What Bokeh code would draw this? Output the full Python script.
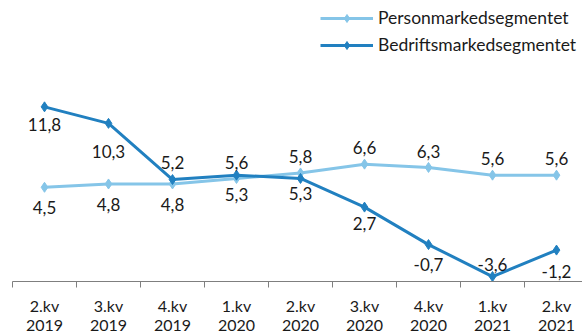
from bokeh.plotting import figure
from bokeh.models import ColumnDataSource, FixedTicker, Legend, LegendItem, Range1d
from bokeh.core.properties import value
from bokeh.embed import file_html
from bokeh.resources import INLINE

quarters = ["2.kv", "3.kv", "4.kv", "1.kv", "2.kv", "3.kv", "4.kv", "1.kv", "2.kv"]
years = ["2019", "2019", "2019", "2020", "2020", "2020", "2020", "2021", "2021"]
person = [4.5, 4.8, 4.8, 5.3, 5.8, 6.6, 6.3, 5.6, 5.6]
bedrift = [11.8, 10.3, 5.2, 5.6, 5.3, 2.7, -0.7, -3.6, -1.2]

# label placement (style): screen-pixel vertical offsets, + is below
person_off = [20, 21, 21, 16, -16, -17, -16, -17, -17]
bedrift_off = [18, 28, -17, -13, 15, 16, 20, -12, 21]

LIGHT = "#85C5E8"
DARK = "#2180C0"
FONT = "Lato"

x = list(range(len(quarters)))
labels = [f"{q}\n{y}" for q, y in zip(quarters, years)]

p = figure(width=582, height=336, output_backend="svg", toolbar_location=None,
           x_range=Range1d(-0.5, 8.406), y_range=Range1d(-4.05, 21.45),
           min_border_left=12, min_border_right=0, min_border_top=0, min_border_bottom=53)
p.outline_line_color = None
p.grid.visible = False
p.yaxis.visible = False

src_p = ColumnDataSource(dict(x=x, y=person, t=[f"{v:.1f}".replace(".", ",") for v in person], off=person_off))
src_b = ColumnDataSource(dict(x=x, y=bedrift, t=[f"{v:.1f}".replace(".", ",") for v in bedrift], off=bedrift_off))

lp = p.line("x", "y", source=src_p, line_color=LIGHT, line_width=3)
sp = p.scatter("x", "y", source=src_p, marker="diamond", size=10, fill_color=LIGHT, line_color=LIGHT)
lb = p.line("x", "y", source=src_b, line_color=DARK, line_width=3)
sb = p.scatter("x", "y", source=src_b, marker="diamond", size=10, fill_color=DARK, line_color=DARK)

for src in (src_p, src_b):
    p.text("x", "y", text="t", source=src, y_offset="off", text_align="center",
           text_baseline="middle", text_font=value(FONT), text_font_size="17px",
           text_color="#1a1a1a")

ax = p.xaxis[0]
ax.ticker = FixedTicker(ticks=x, minor_ticks=[i - 0.5 for i in range(len(quarters) + 1)])
ax.major_label_overrides = {i: l for i, l in enumerate(labels)}
ax.major_tick_line_color = None
ax.major_tick_out = 0
ax.major_tick_in = 0
ax.minor_tick_line_color = "#7f7f7f"
ax.minor_tick_out = 6
ax.minor_tick_in = 0
ax.axis_line_color = "#7f7f7f"
ax.axis_line_width = 1
ax.major_label_standoff = 8
ax.major_label_text_font = FONT
ax.major_label_text_font_size = "16px"
ax.major_label_text_line_height = 1.0
ax.major_label_text_color = "#1a1a1a"

legend = Legend(items=[LegendItem(label="Personmarkedsegmentet", renderers=[lp, sp]),
                       LegendItem(label="Bedriftsmarkedsegmentet", renderers=[lb, sb])],
                location=(308, 226), orientation="vertical",
                glyph_width=53, glyph_height=20, label_standoff=5, spacing=6,
                padding=0, margin=0, border_line_color=None, background_fill_alpha=0,
                label_text_font=FONT, label_text_font_size="17.5px", label_text_color="#1a1a1a",
                label_height=20)
p.add_layout(legend)

open("out.html", "w").write(file_html(p, INLINE))
